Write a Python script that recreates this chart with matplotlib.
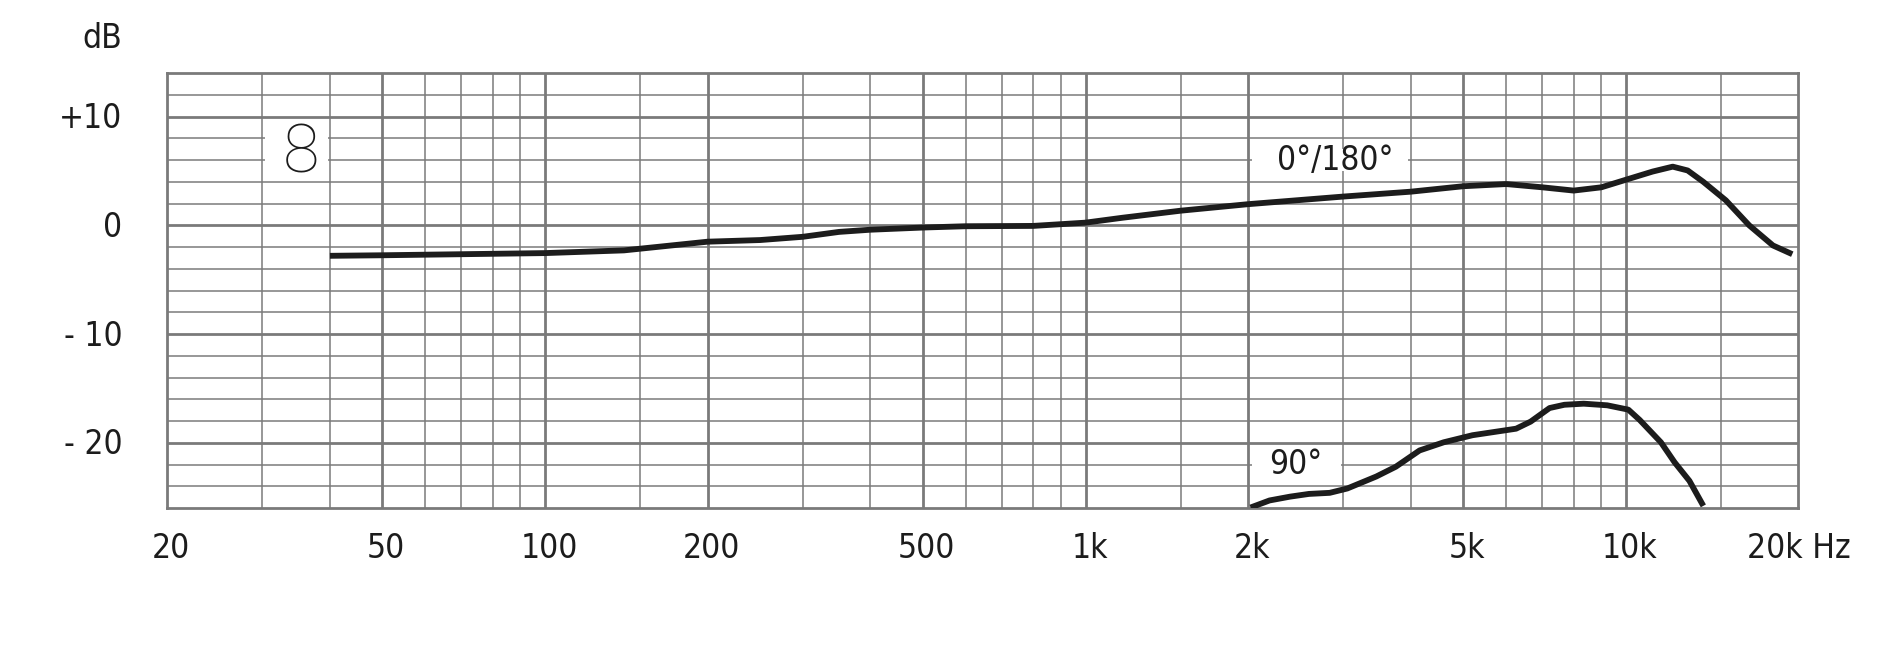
import matplotlib.pyplot as plt
from matplotlib.patches import Rectangle

# 0°/180° response (Hz, dB)
freq_0 = [40, 50, 100, 140, 200, 250, 300, 350, 400, 500, 600, 800, 1000, 1170, 1500,
          2000, 3000, 4000, 5000, 6000, 7000, 8000, 9000, 10000, 11200, 12200, 13000,
          13900, 15300, 16900, 18700, 20300]
db_0 = [-2.8, -2.75, -2.55, -2.3, -1.5, -1.35, -1.05, -0.6, -0.4, -0.2, -0.08, -0.05, 0.25,
        0.7, 1.35, 1.95, 2.65, 3.1, 3.6, 3.8, 3.5, 3.2, 3.5, 4.2, 4.95, 5.4, 5.05,
        4.0, 2.3, 0.0, -1.85, -2.65]

# 90° response (Hz, dB)
freq_90 = [2020, 2190, 2390, 2590, 2830, 3050, 3450, 3750, 4150, 4600, 5200, 6260, 6660,
           7220, 7690, 8350, 9230, 10100, 10600, 11600, 12300, 13100, 13900]
db_90 = [-25.95, -25.3, -24.95, -24.7, -24.6, -24.2, -23.1, -22.2, -20.7, -19.95, -19.3,
         -18.7, -18.05, -16.8, -16.5, -16.4, -16.55, -16.95, -17.9, -19.95, -21.8, -23.5, -25.8]

x_ticks = [20, 50, 100, 200, 500, 1000, 2000, 5000, 10000, 20000]
x_labels = ['20', '50', '100', '200', '500', '1k', '2k', '5k', '10k', '20k Hz']
minor_freqs = [30, 40, 60, 70, 80, 90, 150, 300, 400, 600, 700, 800, 900, 1500,
               3000, 4000, 6000, 7000, 8000, 9000, 15000]
y_ticks = [10, 0, -10, -20]
y_labels = ['+10', '0', '- 10', '- 20']

txt = dict(fontsize=24, family='DejaVu Sans', fontstretch='condensed', color='#1c1c1c')
grid_col = '#7a7a7a'
ink = '#1c1c1c'

fig = plt.figure(figsize=(19, 6.65), dpi=100)
ax = fig.add_axes([0.088, 0.236, 0.8583, 0.654])
ax.set_xscale('log')
ax.set_xlim(20, 20800)
ax.set_ylim(-26, 14)

# grid by hand: thin lines everywhere, thick on labelled values
for f in minor_freqs:
    ax.axvline(f, color=grid_col, lw=1.1, zorder=1)
for f in x_ticks[1:-1]:
    ax.axvline(f, color=grid_col, lw=2.0, zorder=1)
for d in range(-24, 14, 2):
    lw = 2.0 if d in y_ticks else 1.1
    ax.axhline(d, color=grid_col, lw=lw, zorder=1)

for s in ax.spines.values():
    s.set_color(grid_col)
    s.set_linewidth(2.0)
ax.set_xticks([])
ax.set_yticks([])
ax.minorticks_off()

# white patches behind the labels inside the grid
ax.add_patch(Rectangle((30.4, 4.2), 9.2, 5.6, facecolor='white', edgecolor='none', zorder=2))
ax.add_patch(Rectangle((2030, 5.0), 1920, 2.0, facecolor='white', edgecolor='none', zorder=2))
ax.add_patch(Rectangle((2030, -23.0), 940, 2.0, facecolor='white', edgecolor='none', zorder=2))

ax.plot(freq_0, db_0, color=ink, lw=4.2, solid_joinstyle='round', solid_capstyle='butt', zorder=3)
ax.plot(freq_90, db_90, color=ink, lw=4.2, solid_joinstyle='round', solid_capstyle='butt', zorder=3)

ax.text(35.3, 6.5, '8', fontsize=48, family=['Roboto', 'DejaVu Sans'], fontweight='light',
        color=ink, ha='center', va='center', zorder=4)
ax.text(2900, 6.0, '0°/180°', ha='center', va='center', zorder=4, **txt)
ax.text(2450, -22.0, '90°', ha='center', va='center', zorder=4, **txt)

# axis labels
for f, lbl in zip(x_ticks, x_labels):
    if lbl.endswith('Hz'):
        ax.annotate(lbl, (f, 0), xycoords=('data', 'axes fraction'), xytext=(-42, -40),
                    textcoords='offset pixels', ha='left', va='center',
                    annotation_clip=False, **txt)
    else:
        ax.annotate(lbl, (f, 0), xycoords=('data', 'axes fraction'), xytext=(4, -40),
                    textcoords='offset pixels', ha='center', va='center',
                    annotation_clip=False, **txt)
for d, lbl in zip(y_ticks, y_labels):
    ax.annotate(lbl, (0, d), xycoords=('axes fraction', 'data'), xytext=(-45, -2),
                textcoords='offset pixels', ha='right', va='center',
                annotation_clip=False, **txt)
ax.annotate('dB', (0, 1), xycoords='axes fraction', xytext=(-45, 35),
            textcoords='offset pixels', ha='right', va='center',
            annotation_clip=False, **txt)

plt.savefig('out.png', dpi=100, facecolor='white')
